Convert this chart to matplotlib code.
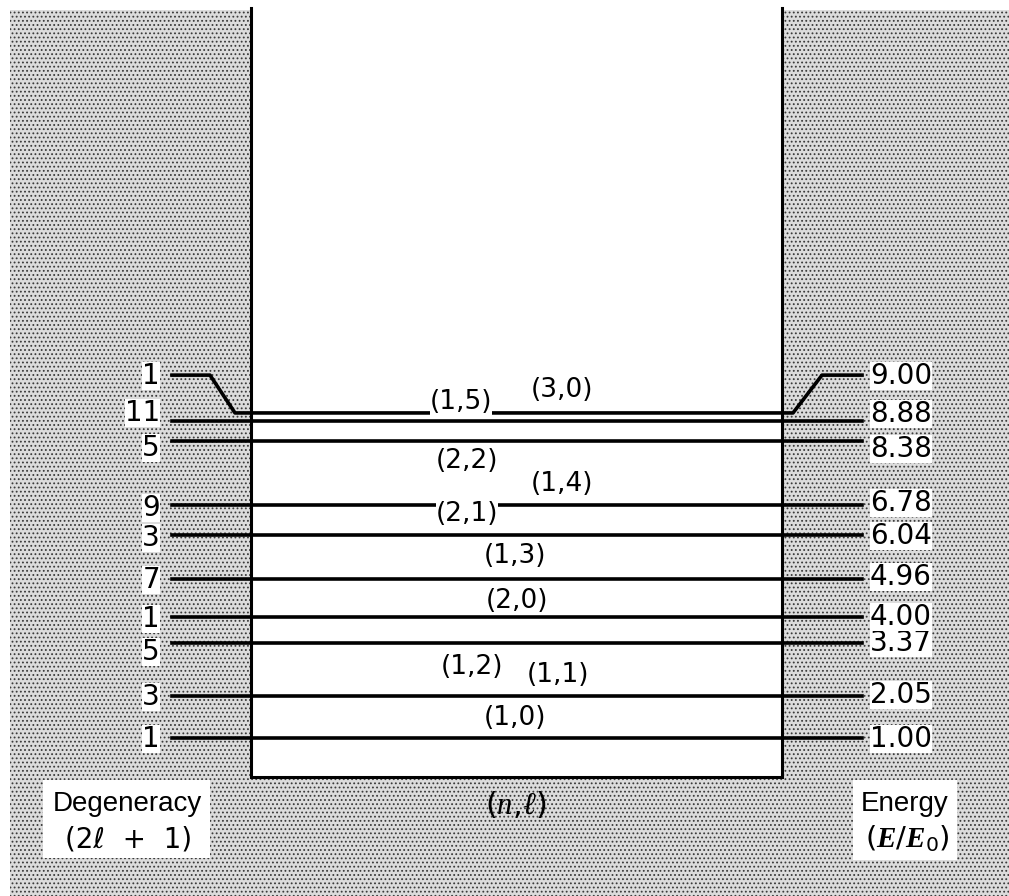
import matplotlib
matplotlib.use('Agg')
import matplotlib.pyplot as plt
from matplotlib.patches import Rectangle

plt.rcParams['mathtext.fontset'] = 'custom'
plt.rcParams['mathtext.rm'] = 'DejaVu Sans'
plt.rcParams['mathtext.it'] = 'Liberation Serif:italic'
plt.rcParams['mathtext.bf'] = 'Liberation Serif:italic:bold'
plt.rcParams['hatch.linewidth'] = 0.8

# ---------------- data ----------------
energies = [1.00, 2.05, 3.37, 4.00, 4.96, 6.04, 6.78, 8.38, 8.88, 9.00]
degeneracy = [1, 3, 5, 1, 7, 3, 9, 5, 11, 1]
states = ['(1,0)', '(1,1)', '(1,2)', '(2,0)', '(1,3)', '(2,1)', '(1,4)', '(2,2)', '(1,5)', '(3,0)']
energy_labels = ['%.2f' % e for e in energies]

# ---------------- layout ----------------
# energy scale: 1 unit of E/E0 ~ 40.23 px, E=1 at 738 px from top
PX_PER_E = 40.23
E_top = 1 + 738 / PX_PER_E
E_bot = 1 - (896 - 738) / PX_PER_E
draw_shift = [0, 0, 0, 0, 0, 0, 0, 0, 0, 0.08]        # separate 9.00 from 8.88 visually
tab_shift = 0.94                                       # raised end tabs of the 9.00 level
state_x = [515, 558, 472, 517, 515, 467, 562, 467, 461, 562]
state_dy = [0.50, 0.52, -0.60, 0.41, 0.56, 0.53, 0.53, -0.50, 0.47, 0.57]
left_dy = [-0.03, -0.03, -0.22, -0.03, -0.03, -0.08, -0.06, -0.17, 0.20, -0.03]
right_dy = [-0.03, 0.02, 0.0, 0.01, 0.05, -0.02, 0.07, -0.19, 0.18, -0.03]

X_LINE0, X_LINE1 = 172, 862
X_BOX0, X_BOX1 = 251, 782
E_BOX_BOTTOM = 1 - (777 - 738) / PX_PER_E

fig = plt.figure(figsize=(10.09, 8.96), dpi=100)
ax = fig.add_axes([0, 0, 1, 1])
ax.set_xlim(0, 1009)
ax.set_ylim(E_bot, E_top)
ax.axis('off')

# dotted background
ax.add_patch(Rectangle((10, E_bot), 1000, (E_top - 10 / PX_PER_E) - E_bot,
                       facecolor='#dcdcdc', edgecolor='#3a3a3a', hatch='....',
                       linewidth=0, zorder=0))
# white well interior
ax.add_patch(Rectangle((X_BOX0, E_BOX_BOTTOM), X_BOX1 - X_BOX0, E_top - E_BOX_BOTTOM,
                       facecolor='white', edgecolor='none', zorder=1))
# well walls
E_wall_top = E_top - 8 / PX_PER_E
ax.plot([X_BOX0, X_BOX0, X_BOX1, X_BOX1], [E_wall_top, E_BOX_BOTTOM, E_BOX_BOTTOM, E_wall_top],
        color='black', lw=2.2, zorder=3, solid_joinstyle='miter')

# levels
lw = 2.6
for i, e in enumerate(energies):
    ed = e + draw_shift[i]
    if i == len(energies) - 1:
        et = ed + tab_shift
        xs = [X_LINE0, 210, 235, 793, 822, X_LINE1]
        ys = [et, et, ed, ed, et, et]
        ax.plot(xs, ys, color='black', lw=lw, zorder=2, solid_joinstyle='round')
        lab_e = et
    else:
        ax.plot([X_LINE0, X_LINE1], [ed, ed], color='black', lw=lw, zorder=2)
        lab_e = ed
    # degeneracy (left)
    ax.text(160, lab_e + left_dy[i], str(degeneracy[i]), ha='right', va='center',
            fontsize=20, family='DejaVu Sans', zorder=4,
            bbox=dict(facecolor='white', edgecolor='none', pad=0))
    # energy (right)
    ax.text(870, lab_e + right_dy[i], energy_labels[i], ha='left', va='center',
            fontsize=20, family='DejaVu Sans', zorder=4,
            bbox=dict(facecolor='white', edgecolor='none', pad=0))
    # (n, l) state label
    ax.text(state_x[i], ed + state_dy[i], states[i], ha='center', va='center',
            fontsize=19, family='DejaVu Sans', zorder=4,
            bbox=dict(facecolor='white', edgecolor='none', pad=0))

# axis captions
E_row1 = 1 - (804 - 738) / PX_PER_E
E_row2 = 1 - (839 - 738) / PX_PER_E
ax.add_patch(Rectangle((43, 1 - (858 - 738) / PX_PER_E), 167, 78 / PX_PER_E,
                       facecolor='white', edgecolor='none', zorder=3))
ax.add_patch(Rectangle((853, 1 - (860 - 738) / PX_PER_E), 104, 80 / PX_PER_E,
                       facecolor='white', edgecolor='none', zorder=3))
ax.text(127, E_row1, 'Degeneracy', ha='center', va='center', fontsize=20,
        family='Liberation Sans', zorder=4)
ax.text(129, E_row2, '(2\u2113  +  1)', ha='center', va='center', fontsize=20,
        family='DejaVu Sans', zorder=4)
ax.text(516, E_row1, r'$(n,\!\ell)$', ha='center', va='center', fontsize=22, zorder=4)
ax.text(905, E_row1, 'Energy', ha='center', va='center', fontsize=20,
        family='Liberation Sans', zorder=4)
ax.text(907, E_row2, r'$(\mathbf{E}/\mathbf{E}_{\mathrm{0}})$', ha='center', va='center',
        fontsize=21, zorder=4)

fig.savefig('out.png', dpi=100)
